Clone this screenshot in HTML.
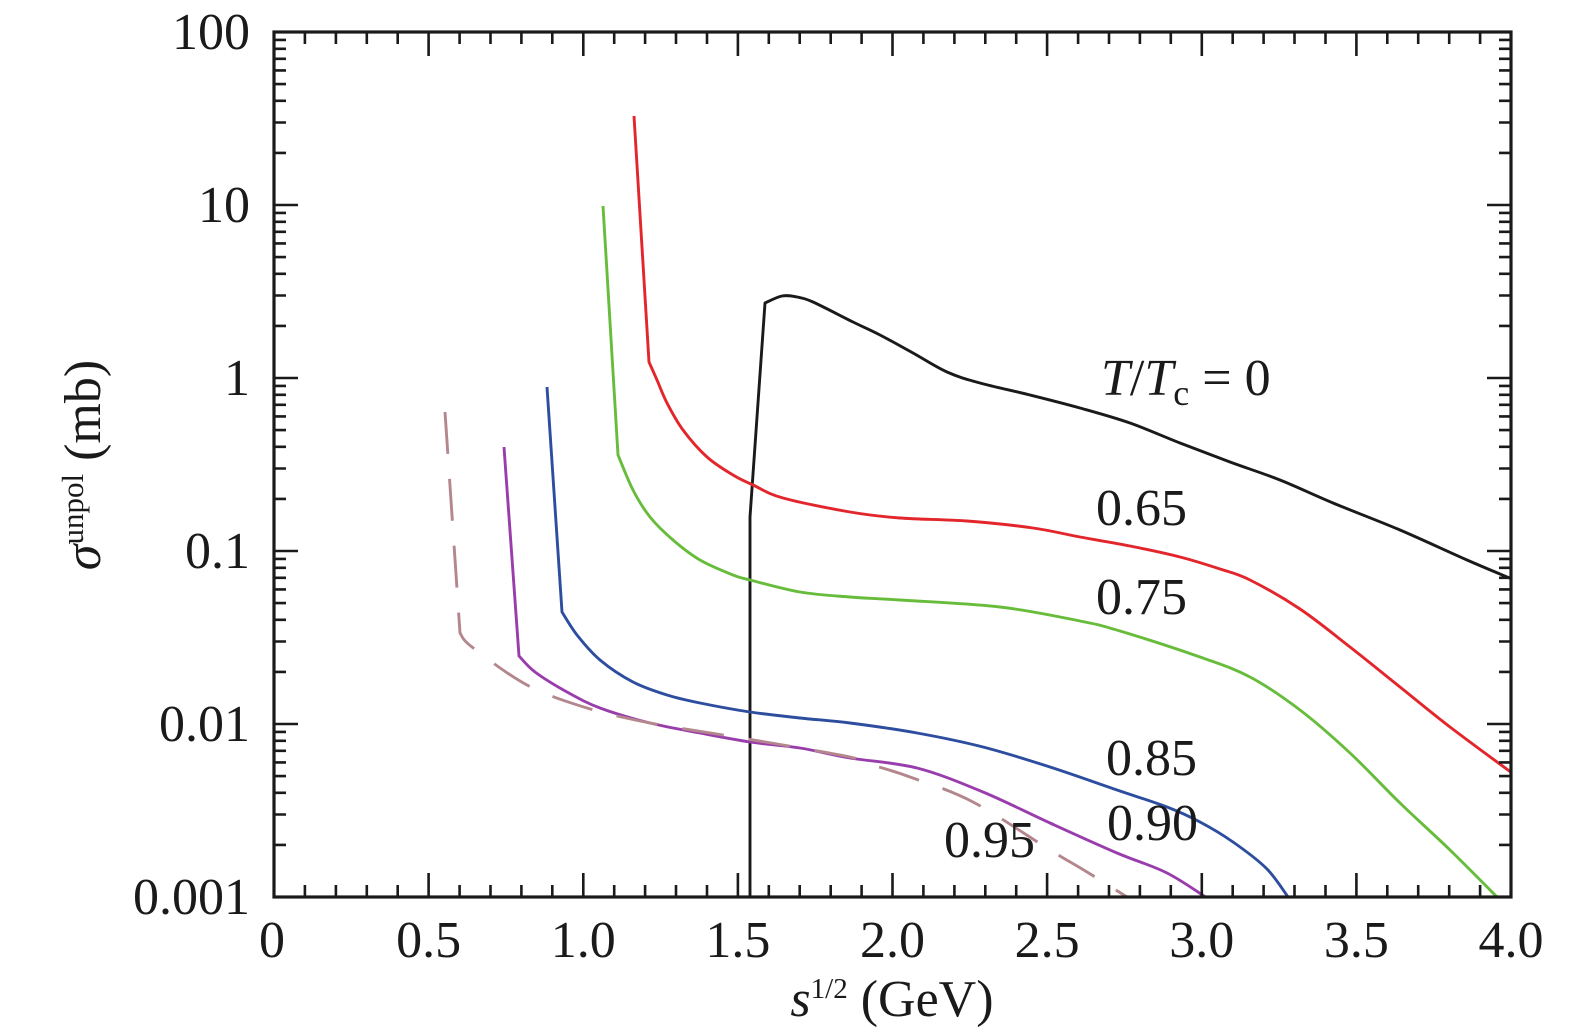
<!DOCTYPE html>
<html><head><meta charset="utf-8"><style>
html,body{margin:0;padding:0;background:#fff;}
svg{display:block;}
text{font-family:"Liberation Serif",serif;fill:#1a1a1a;}
</style></head><body>
<svg id="sv" width="1575" height="1035" viewBox="0 0 1575 1035" xmlns="http://www.w3.org/2000/svg">
<defs><clipPath id="c"><rect x="274" y="32" width="1237" height="865"/></clipPath></defs>
<rect width="1575" height="1035" fill="#fff"/>

<g id="curves" clip-path="url(#c)" fill="none" stroke-width="2.9" stroke-linejoin="round" stroke-linecap="butt">
<polyline class="s2" stroke="#1a1a1a" points="750,900 750,517 765,303 782,296 797,297 813,302 853,322 880,335 913,353 947,372 980,383 1030,395 1080,408 1130,423 1180,443 1230,462 1280,480 1333,503 1400,530 1467,560 1512,579"/>
<polyline class="s1" stroke="#e2262b" points="634,116 649,362 657,380 667,403 683,430 707,457 733,475 753,485 783,498 850,512 900,518 967,521 1033,528 1080,537 1130,546 1180,557 1220,569 1250,580 1300,609 1350,647 1400,687 1450,727 1512,773"/>
<polyline class="s1" stroke="#67bd3b" points="603,206 618,455 633,490 650,517 673,540 700,560 733,575 750,580 800,592 850,597 900,600 1000,607 1080,621 1120,631 1200,657 1250,677 1300,710 1350,753 1400,803 1450,850 1500,900"/>
<polyline class="s1" stroke="#2d4d9f" points="547,387 562,612 577,635 600,660 633,682 667,695 700,703 750,712 800,718 850,723 917,733 983,747 1050,767 1117,790 1167,807 1200,822 1233,842 1267,869 1290,900"/>
<polyline class="s1" stroke="#9a3dac" points="504,447 519,656 535,672 567,692 600,708 650,723 700,733 750,742 800,748 850,758 917,768 983,792 1050,823 1117,853 1167,873 1210,900"/>
<polyline class="s1" stroke="#b3878d" stroke-dasharray="42 25" points="445,412 460,633 472,647 527,685 587,708 650,723 717,734 783,745 850,757 873,765 910,777 973,802 1050,850 1087,872 1135,902"/>
</g>

<g stroke="#1a1a1a" stroke-width="2.6" fill="none">
<path d="M304.9 897v-12M335.9 897v-12M366.8 897v-12M397.7 897v-12M459.6 897v-12M490.5 897v-12M521.4 897v-12M552.3 897v-12M614.2 897v-12M645.1 897v-12M676 897v-12M707 897v-12M768.8 897v-12M799.7 897v-12M830.7 897v-12M861.6 897v-12M923.4 897v-12M954.4 897v-12M985.3 897v-12M1016.2 897v-12M1078.1 897v-12M1109 897v-12M1139.9 897v-12M1170.8 897v-12M1232.7 897v-12M1263.6 897v-12M1294.5 897v-12M1325.5 897v-12M1387.3 897v-12M1418.2 897v-12M1449.2 897v-12M1480.1 897v-12
M428.6 897v-24M583.3 897v-24M737.9 897v-24M892.5 897v-24M1047.1 897v-24M1201.8 897v-24M1356.4 897v-24"/>
<path d="M304.9 32v12M335.9 32v12M366.8 32v12M397.7 32v12M459.6 32v12M490.5 32v12M521.4 32v12M552.3 32v12M614.2 32v12M645.1 32v12M676 32v12M707 32v12M768.8 32v12M799.7 32v12M830.7 32v12M861.6 32v12M923.4 32v12M954.4 32v12M985.3 32v12M1016.2 32v12M1078.1 32v12M1109 32v12M1139.9 32v12M1170.8 32v12M1232.7 32v12M1263.6 32v12M1294.5 32v12M1325.5 32v12M1387.3 32v12M1418.2 32v12M1449.2 32v12M1480.1 32v12
M428.6 32v24M583.3 32v24M737.9 32v24M892.5 32v24M1047.1 32v24M1201.8 32v24M1356.4 32v24"/>
<path d="M274 844.9h12M274 814.5h12M274 792.8h12M274 776.1h12M274 762.4h12M274 750.8h12M274 740.8h12M274 731.9h12
M274 671.9h12M274 641.5h12M274 619.8h12M274 603.1h12M274 589.4h12M274 577.8h12M274 567.8h12M274 558.9h12
M274 498.9h12M274 468.5h12M274 446.8h12M274 430.1h12M274 416.4h12M274 404.8h12M274 394.8h12M274 385.9h12
M274 325.9h12M274 295.5h12M274 273.8h12M274 257.1h12M274 243.4h12M274 231.8h12M274 221.8h12M274 212.9h12
M274 152.9h12M274 122.5h12M274 100.8h12M274 84.1h12M274 70.4h12M274 58.8h12M274 48.8h12M274 39.9h12
M274 205h24M274 378h24M274 551h24M274 724h24"/>
<path d="M1511 844.9h-12M1511 814.5h-12M1511 792.8h-12M1511 776.1h-12M1511 762.4h-12M1511 750.8h-12M1511 740.8h-12M1511 731.9h-12
M1511 671.9h-12M1511 641.5h-12M1511 619.8h-12M1511 603.1h-12M1511 589.4h-12M1511 577.8h-12M1511 567.8h-12M1511 558.9h-12
M1511 498.9h-12M1511 468.5h-12M1511 446.8h-12M1511 430.1h-12M1511 416.4h-12M1511 404.8h-12M1511 394.8h-12M1511 385.9h-12
M1511 325.9h-12M1511 295.5h-12M1511 273.8h-12M1511 257.1h-12M1511 243.4h-12M1511 231.8h-12M1511 221.8h-12M1511 212.9h-12
M1511 152.9h-12M1511 122.5h-12M1511 100.8h-12M1511 84.1h-12M1511 70.4h-12M1511 58.8h-12M1511 48.8h-12M1511 39.9h-12
M1511 205h-24M1511 378h-24M1511 551h-24M1511 724h-24"/>
</g>
<rect x="274" y="32" width="1237" height="865" fill="none" stroke="#1a1a1a" stroke-width="3.2"/>

<g font-size="52" text-anchor="end">
<text x="250" y="49">100</text>
<text x="250" y="222">10</text>
<text x="250" y="395">1</text>
<text x="250" y="568">0.1</text>
<text x="250" y="741">0.01</text>
<text x="250" y="914">0.001</text>
</g>
<g font-size="52" text-anchor="middle">
<text x="272" y="957">0</text>
<text x="428.6" y="957">0.5</text>
<text x="583.3" y="957">1.0</text>
<text x="737.9" y="957">1.5</text>
<text x="892.5" y="957">2.0</text>
<text x="1047.1" y="957">2.5</text>
<text x="1201.8" y="957">3.0</text>
<text x="1356.4" y="957">3.5</text>
<text x="1511" y="957">4.0</text>
</g>

<text x="892" y="1016" font-size="52" text-anchor="middle"><tspan font-style="italic">s</tspan><tspan font-size="29" dy="-18">1/2</tspan><tspan dy="18"> (GeV)</tspan></text>

<text transform="translate(100,465) rotate(-90)" font-size="52" text-anchor="middle"><tspan font-style="italic">σ</tspan><tspan font-size="31" dy="-17">unpol</tspan><tspan dy="17"> (mb)</tspan></text>

<g font-size="52">
<text x="1101" y="395"><tspan font-style="italic">T</tspan>/<tspan font-style="italic">T</tspan><tspan font-size="36" dy="10">c</tspan><tspan dy="-10"> = 0</tspan></text>
<text x="1096" y="525">0.65</text>
<text x="1096" y="614">0.75</text>
<text x="1106" y="775">0.85</text>
<text x="1107" y="840">0.90</text>
<text x="944" y="857">0.95</text>
</g>
</svg>
<script>
(function(){
var NS="http://www.w3.org/2000/svg";
var pls=document.querySelectorAll('#curves polyline');
for(var k=0;k<pls.length;k++){
  var pl=pls[k];
  var n=pl.classList.contains('s2')?2:1;
  var pts=pl.getAttribute('points').trim().split(/\s+/).map(function(p){return p.split(',').map(Number);});
  var d='M'+pts[0][0]+','+pts[0][1];
  for(var i=1;i<=n;i++) d+=' L'+pts[i][0]+','+pts[i][1];
  var s=pts.slice(n);
  for(var i=0;i<s.length-1;i++){
    var p0=s[i-1]||s[i], p1=s[i], p2=s[i+1], p3=s[i+2]||s[i+1];
    var c1x=p1[0]+(p2[0]-p0[0])/6, c1y=p1[1]+(p2[1]-p0[1])/6;
    var c2x=p2[0]-(p3[0]-p1[0])/6, c2y=p2[1]-(p3[1]-p1[1])/6;
    d+=' C'+c1x.toFixed(2)+','+c1y.toFixed(2)+' '+c2x.toFixed(2)+','+c2y.toFixed(2)+' '+p2[0]+','+p2[1];
  }
  var path=document.createElementNS(NS,'path');
  path.setAttribute('d',d);
  path.setAttribute('stroke',pl.getAttribute('stroke'));
  var da=pl.getAttribute('stroke-dasharray');
  if(da) path.setAttribute('stroke-dasharray',da);
  pl.parentNode.replaceChild(path,pl);
}
})();
</script>
</body></html>
